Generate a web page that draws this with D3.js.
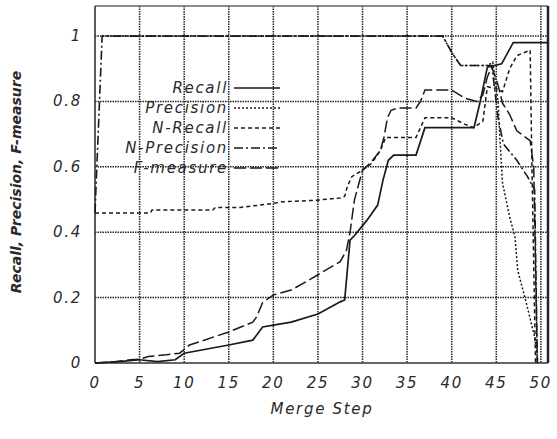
<!DOCTYPE html>
<html><head><meta charset="utf-8">
<script src="https://cdn.jsdelivr.net/npm/d3@7"></script>
<style>
body{margin:0;background:#fff;}
text{font-family:"DejaVu Sans",sans-serif;font-style:italic;fill:#2a2a2a;}
</style></head>
<body><svg id="c" width="557" height="439"></svg>
<script>
// ---- data ----
const xTicks = [0,5,10,15,20,25,30,35,40,45,50];
const yTicks = [0,0.2,0.4,0.6,0.8,1];
const yTickLabels = ["0","0.2","0.4","0.6","0.8","1"];
const seriesNames = ["Recall","Precision","N-Recall","N-Precision","F-measure"];

const recall = [[0,0],[3,0.005],[5,0.01],[7,0.004],[9,0.01],[10,0.03],[15,0.055],[17.7,0.07],[18.8,0.11],[20,0.116],[22,0.125],[25,0.15],[27.5,0.187],[28,0.193],[28.6,0.376],[29.1,0.39],[30.5,0.437],[31.7,0.483],[32.3,0.56],[32.9,0.62],[33.5,0.636],[36,0.636],[37,0.72],[42.5,0.72],[43.2,0.8],[44,0.905],[45.6,0.915],[46.9,0.98],[50.8,0.98]];
const precision = [[0.8,1],[39,1],[40,0.95],[41,0.91],[44,0.91],[44.6,0.92],[45.2,0.8],[45.4,0.69],[45.7,0.55],[46.5,0.447],[47.1,0.385],[47.4,0.284],[48.4,0.18],[49.3,0.08],[49.7,0]];
const nRecall = [[0,0.459],[6.2,0.459],[6.4,0.468],[13.2,0.468],[13.5,0.476],[16.3,0.476],[20,0.488],[21,0.493],[24.9,0.498],[27.5,0.505],[28,0.51],[28.3,0.54],[28.8,0.57],[30,0.59],[31,0.61],[32,0.65],[32.6,0.69],[36,0.69],[36.5,0.72],[37,0.75],[40,0.75],[41.5,0.73],[42.5,0.72],[43.5,0.74],[44,0.845],[45,0.84],[45.7,0.83],[46.5,0.9],[47.3,0.94],[48.8,0.957],[49,0.6],[49.4,0]];
const nPrecision = [[0,0.46],[0.8,1],[39,1],[40,0.95],[41,0.91],[44.5,0.91],[45.2,0.75],[45.8,0.67],[47.3,0.62],[48.5,0.57],[49.3,0.53],[49.6,0]];
const fMeasure = [[0,0],[2,0.003],[4,0.01],[5,0.012],[6,0.02],[8,0.025],[9.5,0.03],[10.6,0.055],[15,0.095],[17.7,0.125],[18.1,0.14],[18.8,0.185],[20,0.208],[22,0.223],[24,0.254],[25,0.27],[27.5,0.31],[28.2,0.345],[28.6,0.4],[29.1,0.5],[30,0.59],[31,0.615],[32,0.65],[32.4,0.69],[32.8,0.75],[33.2,0.773],[34,0.78],[36,0.78],[36.5,0.8],[37,0.835],[40,0.835],[41.5,0.81],[42.8,0.8],[43.5,0.82],[44,0.875],[44.5,0.905],[45.2,0.85],[45.7,0.795],[46.5,0.76],[47.3,0.71],[48.8,0.68],[49.2,0.6],[49.6,0]];

const seriesData = [recall, precision, nRecall, nPrecision, fMeasure];
const dashes = [null, "2,2", "4,3", "9,3,2,3", "12,4"];
const widths = [1.7, 1.5, 1.5, 1.6, 1.5];

// ---- chart ----
const svg = d3.select("#c");
const L=95, R=548, T=6, B=363;
const x = d3.scaleLinear().domain([0,50.8]).range([L,R]);
const y = d3.scaleLinear().domain([0,1.092]).range([B,T]);

// gridlines
svg.append("g").selectAll("line").data(xTicks.filter(d=>d>0)).join("line")
  .attr("x1",d=>x(d)).attr("x2",d=>x(d)).attr("y1",T).attr("y2",B)
  .attr("stroke","#222").attr("stroke-width",1.5).attr("stroke-dasharray","1.5,1");
svg.append("g").selectAll("line").data(yTicks.filter(d=>d>0)).join("line")
  .attr("x1",L).attr("x2",R).attr("y1",d=>y(d)).attr("y2",d=>y(d))
  .attr("stroke","#222").attr("stroke-width",1.5).attr("stroke-dasharray","1.5,1");

// frame
svg.append("line").attr("x1",L).attr("x2",R).attr("y1",T).attr("y2",T).attr("stroke","#666").attr("stroke-width",1.3);
svg.append("line").attr("x1",L).attr("x2",L).attr("y1",T).attr("y2",B).attr("stroke","#333").attr("stroke-width",1.6);
svg.append("line").attr("x1",L).attr("x2",R).attr("y1",B).attr("y2",B).attr("stroke","#333").attr("stroke-width",1.6);
svg.append("line").attr("x1",R).attr("x2",R).attr("y1",T).attr("y2",B).attr("stroke","#222").attr("stroke-width",2.5);

// series
const line = d3.line().x(d=>x(d[0])).y(d=>y(d[1]));
seriesData.forEach((s,i)=>{
  svg.append("path").datum(s).attr("d",line).attr("fill","none")
    .attr("stroke","#1a1a1a").attr("stroke-width",widths[i])
    .attr("stroke-dasharray",dashes[i]);
});

// tick labels
svg.append("g").selectAll("text").data(xTicks).join("text")
  .attr("x",d=>x(d)).attr("y",388).attr("text-anchor","middle")
  .attr("font-size","15px").attr("letter-spacing","1.7px")
  .text(d=>d);
svg.append("g").selectAll("text").data(yTicks).join("text")
  .attr("x",82).attr("y",d=>y(d)+5).attr("text-anchor","end")
  .attr("font-size","15px").attr("letter-spacing","1.7px")
  .text((d,i)=>yTickLabels[i]);

// axis titles
svg.append("text").attr("x",322).attr("y",414).attr("text-anchor","middle")
  .attr("font-size","15px").attr("letter-spacing","1.7px").text("Merge Step");
svg.append("text").attr("transform","translate(21,182) rotate(-90)").attr("text-anchor","middle")
  .attr("font-size","14px").attr("font-weight","bold").text("Recall, Precision, F-measure");

// legend
const lg = svg.append("g");
seriesNames.forEach((n,i)=>{
  const cy = 88 + i*20;
  lg.append("text").attr("x",228).attr("y",cy+5).attr("text-anchor","end")
    .attr("font-size","15px").attr("letter-spacing","1.7px").text(n);
  lg.append("line").attr("x1",234).attr("x2",280).attr("y1",cy).attr("y2",cy)
    .attr("stroke","#1a1a1a").attr("stroke-width",widths[i]).attr("stroke-dasharray",dashes[i]);
});
</script></body></html>
